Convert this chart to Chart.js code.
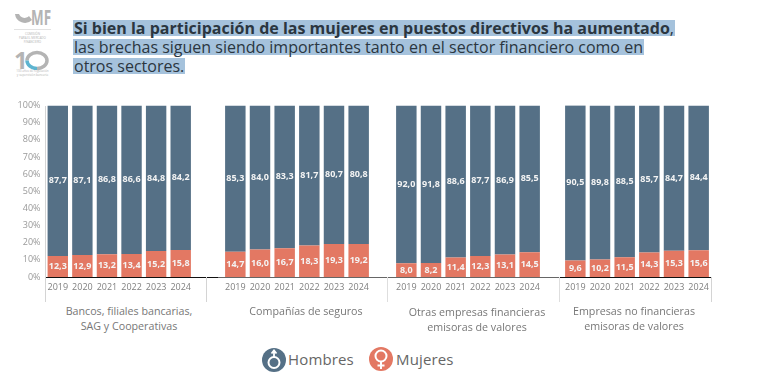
<!DOCTYPE html>
<html lang="es">
<head>
<meta charset="utf-8">
<title>Participación de mujeres en puestos directivos</title>
<script src="https://cdn.jsdelivr.net/npm/chart.js@4/dist/chart.umd.js"></script>
<style>
  html, body { margin: 0; padding: 0; background: #fff; }
  body { position: relative; width: 760px; height: 391px; overflow: hidden; font-family: "Open Sans", sans-serif; }
  canvas { position: absolute; }
  .abs { position: absolute; white-space: nowrap; }
  #titulo { left: 73px; top: 19px; font-size: 16px; line-height: 19px; color: #2b3640; }
  #titulo span { background: linear-gradient(#a5c2dc, #a5c2dc) 0 50% / 100% 16px no-repeat; padding: 0 1px; }
  .grupo { font-size: 10.7px; line-height: 15px; color: #777; text-align: center; transform: translateX(-50%); }
  .linea { position: absolute; }
  .leyenda { font-size: 15px; color: #666; letter-spacing: 0.15px; line-height: 20px; }
  .logo { color: #b4b4b4; text-align: center; }
</style>
</head>
<body>
  <!-- logo -->
  <svg class="abs" style="left:14px;top:9px" width="37" height="17" viewBox="0 0 37 17">
    <path d="M1 5a10 10 0 0 0 17 6l-3-4a6 6 0 0 1-10-2z" fill="#b4b4b4"/>
    <text x="17" y="16" font-family="Open Sans" font-weight="700" font-size="21" textLength="20" lengthAdjust="spacingAndGlyphs" fill="#b4b4b4">MF</text>
  </svg>
  <div class="abs logo" style="left:14px;top:29px;width:37px;font-size:3px;line-height:4px;border-top:1px solid #e2e2e2;padding-top:2px">COMISIÓN<br>PARA EL MERCADO<br>FINANCIERO</div>
  <svg class="abs" style="left:14px;top:50px" width="37" height="20" viewBox="0 0 37 20">
    <text x="0" y="19" font-family="Open Sans" font-weight="700" font-size="24" fill="#b4b4b4">1</text>
    <path d="M13 10.5A10 8 0 1 1 23 18.5" fill="none" stroke="#b4b4b4" stroke-width="3.5"/>
    <path d="M23 18.5A10 8 0 0 1 13 10.5" fill="none" stroke="#5db4d0" stroke-width="3.5"/>
  </svg>
  <div class="abs logo" style="left:13px;top:69px;width:39px;font-size:3px;line-height:4px">100 años de regulación<br>y supervisión bancaria</div>

  <div id="titulo" class="abs"><span><b>Si bien la participación de las mujeres en puestos directivos ha aumentado</b>,</span><br><span>las brechas siguen siendo importantes tanto en el sector financiero como en</span><br><span>otros sectores.</span></div>

  <canvas id="panel-bancos" width="193" height="205" style="left:0;top:95px"></canvas>
  <canvas id="panel-seguros" width="148" height="205" style="left:223px;top:95px"></canvas>
  <canvas id="panel-otras" width="148" height="205" style="left:394px;top:95px"></canvas>
  <canvas id="panel-empresas" width="148" height="205" style="left:563px;top:95px"></canvas>

  <!-- linea base y separadores -->
  <div class="linea" style="left:46px;top:277px;width:172px;height:1px;background:#111"></div>
  <div class="linea" style="left:218px;top:277px;width:341px;height:1px;background:#666"></div>
  <div class="linea" style="left:559px;top:277px;width:152px;height:1px;background:#111"></div>
  <div class="linea" style="left:45px;top:106px;width:1px;height:196px;background:#d4d4d4"></div>
  <div class="linea" style="left:206px;top:277px;width:1px;height:25px;background:#d4d4d4"></div>
  <div class="linea" style="left:387px;top:277px;width:1px;height:25px;background:#dedede"></div>
  <div class="linea" style="left:559px;top:277px;width:1px;height:25px;background:#dedede"></div>
  <div class="linea" style="left:711px;top:277px;width:1px;height:25px;background:#d4d4d4"></div>

  <div class="abs grupo" style="left:129px;top:304px">Bancos, filiales bancarias,<br>SAG y Cooperativas</div>
  <div class="abs grupo" style="left:306px;top:304px">Compañías de seguros</div>
  <div class="abs grupo" style="left:477px;top:305px">Otras empresas financieras<br>emisoras de valores</div>
  <div class="abs grupo" style="left:634px;top:304px">Empresas no financieras<br>emisoras de valores</div>

  <!-- leyenda -->
  <svg class="abs" style="left:261px;top:347px" width="26" height="26" viewBox="0 0 26 26">
    <circle cx="13" cy="13" r="12" fill="#557086"/>
    <circle cx="13" cy="15.5" r="5.5" fill="none" stroke="#fff" stroke-width="2"/>
    <path d="M13 10V4M10.5 6.5L13 3.5l2.5 3" fill="none" stroke="#fff" stroke-width="1.8"/>
  </svg>
  <div class="abs leyenda" style="left:288px;top:349px">Hombres</div>
  <svg class="abs" style="left:368px;top:346px" width="26" height="26" viewBox="0 0 26 26">
    <circle cx="13" cy="13" r="12" fill="#e37863"/>
    <circle cx="13" cy="10" r="5.5" fill="none" stroke="#fff" stroke-width="2"/>
    <path d="M13 15.5V23M9.5 19.5h7" fill="none" stroke="#fff" stroke-width="2"/>
  </svg>
  <div class="abs leyenda" style="left:396px;top:349px">Mujeres</div>

<script>
const anios = ["2019", "2020", "2021", "2022", "2023", "2024"];
const ticksEje = ["0%", "10%", "20%", "30%", "40%", "50%", "60%", "70%", "80%", "90%", "100%"];

const hombresBancos = [87.7, 87.1, 86.8, 86.6, 84.8, 84.2];
const mujeresBancos = [12.3, 12.9, 13.2, 13.4, 15.2, 15.8];
const hombresSeguros = [85.3, 84.0, 83.3, 81.7, 80.7, 80.8];
const mujeresSeguros = [14.7, 16.0, 16.7, 18.3, 19.3, 19.2];
const hombresOtras = [92.0, 91.8, 88.6, 87.7, 86.9, 85.5];
const mujeresOtras = [8.0, 8.2, 11.4, 12.3, 13.1, 14.5];
const hombresEmpresas = [90.5, 89.8, 88.5, 85.7, 84.7, 84.4];
const mujeresEmpresas = [9.6, 10.2, 11.5, 14.3, 15.3, 15.6];

// Etiquetas blancas con coma decimal al centro de cada segmento
const etiquetasBarras = {
  id: "etiquetasBarras",
  afterDatasetsDraw(chart) {
    const ctx = chart.ctx;
    ctx.save();
    ctx.font = "700 9px 'Open Sans'";
    ctx.fillStyle = "#f4f4f4";
    ctx.textAlign = "center";
    ctx.textBaseline = "middle";
    chart.data.datasets.forEach((ds, i) => {
      chart.getDatasetMeta(i).data.forEach((bar, j) => {
        const centro = bar.getProps(["y", "base"]);
        ctx.fillText(ds.data[j].toFixed(1).replace(".", ","), bar.x, (centro.y + centro.base) / 2);
      });
    });
    ctx.restore();
  }
};

function crearPanel(id, hombres, mujeres, conEje) {
  new Chart(document.getElementById(id), {
    type: "bar",
    data: {
      labels: anios,
      datasets: [
        { label: "Mujeres", data: mujeres, backgroundColor: "#e37863" },
        { label: "Hombres", data: hombres, backgroundColor: "#557086" }
      ]
    },
    options: {
      responsive: false,
      animation: false,
      layout: { padding: { top: 10.5 } },
      datasets: { bar: { barPercentage: 0.83, categoryPercentage: 1 } },
      plugins: { legend: { display: false }, tooltip: { enabled: false } },
      scales: {
        x: {
          stacked: true,
          grid: { display: false, tickLength: 5 },
          border: { display: false },
          ticks: { color: "#808080", font: { size: 9, family: "Open Sans" }, padding: 0, maxRotation: 0, autoSkip: false },
          afterFit(scale) { scale.height = 23; }
        },
        y: {
          stacked: true,
          display: conEje,
          min: 0,
          max: 100,
          grid: { display: false, tickLength: 0 },
          border: { display: false },
          afterBuildTicks(scale) { scale.ticks = ticksEje.map(t => ({ value: parseInt(t) })); },
          ticks: {
            color: "#999",
            font: { size: 9, family: "Open Sans" },
            padding: 5,
            callback: value => value + "%"
          },
          afterFit(scale) { scale.width = conEje ? 45.5 : 0; }
        }
      }
    },
    plugins: [etiquetasBarras]
  });
}

crearPanel("panel-bancos", hombresBancos, mujeresBancos, true);
crearPanel("panel-seguros", hombresSeguros, mujeresSeguros, false);
crearPanel("panel-otras", hombresOtras, mujeresOtras, false);
crearPanel("panel-empresas", hombresEmpresas, mujeresEmpresas, false);
</script>
</body>
</html>
